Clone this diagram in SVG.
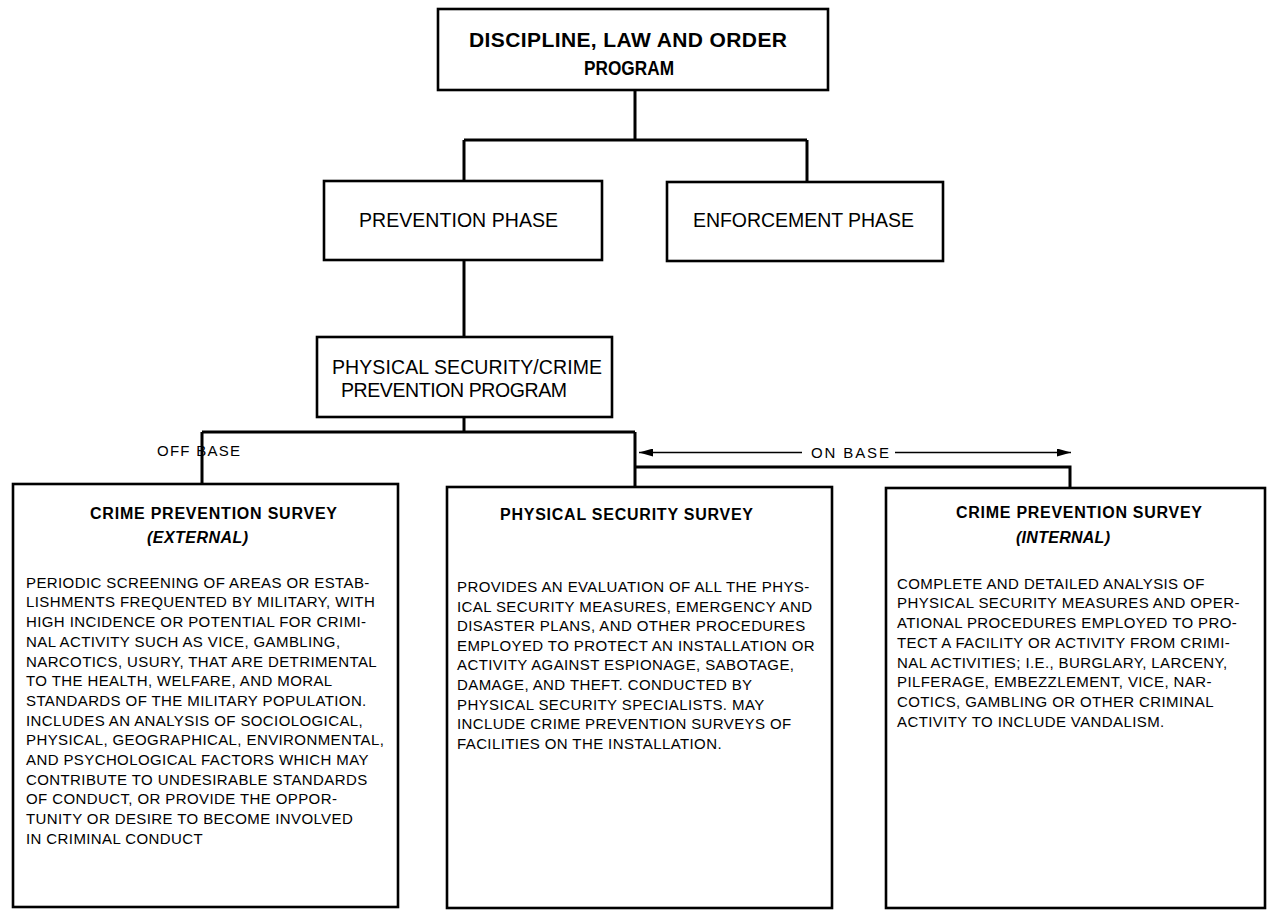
<svg xmlns="http://www.w3.org/2000/svg" width="1267" height="910" viewBox="0 0 1267 910">
<style>
.box{fill:#fff;stroke:#000;stroke-width:2.6}
.conn{fill:none;stroke:#000;stroke-width:3}
.thin{fill:none;stroke:#000;stroke-width:1.6}
text{font-family:"Liberation Sans",Arial,Helvetica,sans-serif;fill:#000}
.big{font-size:21px;font-weight:bold}
.mid{font-size:19.5px}
.lbl{font-size:15px}
.ttl{font-size:16px;font-weight:bold}
.it{font-size:16px;font-weight:bold;font-style:italic}
.body{font-size:15px;letter-spacing:0.4px}
</style>
<defs>
<marker id="ah" viewBox="0 0 14 8" refX="14" refY="4" markerWidth="14" markerHeight="8" markerUnits="userSpaceOnUse" orient="auto-start-reverse">
<path d="M0,0 L14,4 L0,8 Z" fill="#000"/>
</marker>
</defs>
<rect width="1267" height="910" fill="#fff"/>
<g id="connectors">
<path class="conn" d="M635,90 V140 M464,140 H807 M464,140 V181 M807,140 V182"/>
<path class="conn" d="M464,260 V337"/>
<path class="conn" d="M464,417 V432 M202,432 H635 M202,432 V484 M635,432 V487"/>
<path class="conn" d="M635,467 H1070 V488"/>
<line class="thin" x1="802" y1="452.5" x2="639" y2="452.5" marker-end="url(#ah)"/>
<line class="thin" x1="895" y1="452.5" x2="1071" y2="452.5" marker-end="url(#ah)"/>
<text class="lbl" x="157" y="456" textLength="83">OFF BASE</text>
<text class="lbl" x="811" y="458" textLength="78">ON BASE</text>
</g>
<g id="n-dlo">
<rect class="box" x="438" y="9" width="390" height="81"/>
<text class="big" x="628" y="47" text-anchor="middle" textLength="318">DISCIPLINE, LAW AND ORDER</text>
<text class="big" x="629" y="75" text-anchor="middle" textLength="90" lengthAdjust="spacingAndGlyphs">PROGRAM</text>
</g>
<g id="n-prevention">
<rect class="box" x="324" y="181" width="278" height="79"/>
<text class="mid" x="458.5" y="227" text-anchor="middle" textLength="199">PREVENTION PHASE</text>
</g>
<g id="n-enforcement">
<rect class="box" x="667" y="182" width="276" height="79"/>
<text class="mid" x="803.5" y="227" text-anchor="middle" textLength="221">ENFORCEMENT PHASE</text>
</g>
<g id="n-pscp">
<rect class="box" x="317" y="337" width="295" height="80"/>
<text class="mid" x="332" y="374" textLength="270">PHYSICAL SECURITY/CRIME</text>
<text class="mid" x="341" y="397" textLength="226">PREVENTION PROGRAM</text>
</g>
<g id="n-external">
<rect class="box" x="13" y="484" width="385" height="423"/>
<text class="ttl" x="90" y="519" textLength="247">CRIME PREVENTION SURVEY</text>
<text class="it" x="147" y="543" textLength="101">(EXTERNAL)</text>
<text class="body" x="26" y="587.7">PERIODIC SCREENING OF AREAS OR ESTAB-</text>
<text class="body" x="26" y="607.4">LISHMENTS FREQUENTED BY MILITARY, WITH</text>
<text class="body" x="26" y="627.1">HIGH INCIDENCE OR POTENTIAL FOR CRIMI-</text>
<text class="body" x="26" y="646.8">NAL ACTIVITY SUCH AS VICE, GAMBLING,</text>
<text class="body" x="26" y="666.5">NARCOTICS, USURY, THAT ARE DETRIMENTAL</text>
<text class="body" x="26" y="686.2">TO THE HEALTH, WELFARE, AND MORAL</text>
<text class="body" x="26" y="705.9">STANDARDS OF THE MILITARY POPULATION.</text>
<text class="body" x="26" y="725.6">INCLUDES AN ANALYSIS OF SOCIOLOGICAL,</text>
<text class="body" x="26" y="745.3">PHYSICAL, GEOGRAPHICAL, ENVIRONMENTAL,</text>
<text class="body" x="26" y="765.0">AND PSYCHOLOGICAL FACTORS WHICH MAY</text>
<text class="body" x="26" y="784.7">CONTRIBUTE TO UNDESIRABLE STANDARDS</text>
<text class="body" x="26" y="804.4">OF CONDUCT, OR PROVIDE THE OPPOR-</text>
<text class="body" x="26" y="824.1">TUNITY OR DESIRE TO BECOME INVOLVED</text>
<text class="body" x="26" y="843.8">IN CRIMINAL CONDUCT</text>
</g>
<g id="n-physical">
<rect class="box" x="447" y="487" width="385" height="421"/>
<text class="ttl" x="500" y="520" textLength="253">PHYSICAL SECURITY SURVEY</text>
<text class="body" x="457" y="592">PROVIDES AN EVALUATION OF ALL THE PHYS-</text>
<text class="body" x="457" y="611.6">ICAL SECURITY MEASURES, EMERGENCY AND</text>
<text class="body" x="457" y="631.2">DISASTER PLANS, AND OTHER PROCEDURES</text>
<text class="body" x="457" y="650.8">EMPLOYED TO PROTECT AN INSTALLATION OR</text>
<text class="body" x="457" y="670.4">ACTIVITY AGAINST ESPIONAGE, SABOTAGE,</text>
<text class="body" x="457" y="690.0">DAMAGE, AND THEFT. CONDUCTED BY</text>
<text class="body" x="457" y="709.6">PHYSICAL SECURITY SPECIALISTS. MAY</text>
<text class="body" x="457" y="729.2">INCLUDE CRIME PREVENTION SURVEYS OF</text>
<text class="body" x="457" y="748.8">FACILITIES ON THE INSTALLATION.</text>
</g>
<g id="n-internal">
<rect class="box" x="886" y="488" width="379" height="420"/>
<text class="ttl" x="956" y="518" textLength="246">CRIME PREVENTION SURVEY</text>
<text class="it" x="1016" y="543" textLength="94">(INTERNAL)</text>
<text class="body" x="897" y="588.7">COMPLETE AND DETAILED ANALYSIS OF</text>
<text class="body" x="897" y="608.4">PHYSICAL SECURITY MEASURES AND OPER-</text>
<text class="body" x="897" y="628.1">ATIONAL PROCEDURES EMPLOYED TO PRO-</text>
<text class="body" x="897" y="647.8">TECT A FACILITY OR ACTIVITY FROM CRIMI-</text>
<text class="body" x="897" y="667.5">NAL ACTIVITIES; I.E., BURGLARY, LARCENY,</text>
<text class="body" x="897" y="687.2">PILFERAGE, EMBEZZLEMENT, VICE, NAR-</text>
<text class="body" x="897" y="706.9">COTICS, GAMBLING OR OTHER CRIMINAL</text>
<text class="body" x="897" y="726.6">ACTIVITY TO INCLUDE VANDALISM.</text>
</g>
</svg>
